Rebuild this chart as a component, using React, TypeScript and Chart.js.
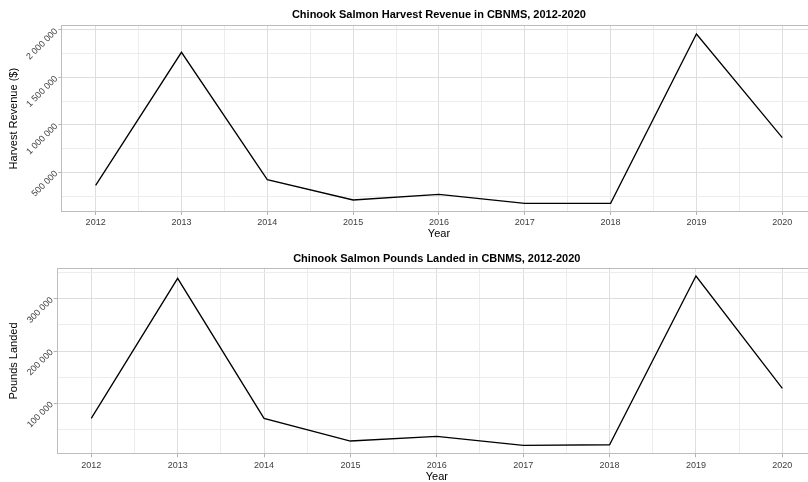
import React, { useEffect, useRef } from "react";
import { Chart, registerables } from "chart.js";

Chart.register(...registerables);

// ---- data ----
const years = [2012, 2013, 2014, 2015, 2016, 2017, 2018, 2019, 2020];
const revenue = [363000, 1765000, 422000, 208000, 268000, 172000, 172000, 1958000, 865000];
const pounds = [71300, 339000, 71300, 27900, 36900, 19700, 20800, 343400, 128700];
const revenueTicks = [500000, 1000000, 1500000, 2000000];
const poundsTicks = [100000, 200000, 300000];
const xTickLabels = years.map(String);

const FONT = '"Liberation Sans", Arial, Helvetica, sans-serif';

function fmt(v: number): string {
  return String(Math.round(v)).replace(/\B(?=(\d{3})+(?!\d))/g, " ");
}

type Spec = {
  title: string;
  yTitle: string;
  values: number[];
  majors: number[];
  yMin: number;
  yMax: number;
  width: number;
  height: number;
  pageTop: number;
  panelLeft: number;
  panelRight: number;
  panelTop: number;
  panelBottom: number;
  titleCenter: number;
  yearCenter: number;
};

const panelBorder = {
  id: "panelBorder",
  afterDatasetsDraw(chart: any) {
    const { ctx, chartArea: a } = chart;
    ctx.save();
    ctx.strokeStyle = "#bdbdbd";
    ctx.lineWidth = 1;
    const l = Math.round(a.left) + 0.5;
    const t = Math.round(a.top) + 0.5;
    const r = Math.round(a.right) - 0.5;
    const b = Math.round(a.bottom) - 0.5;
    ctx.strokeRect(l, t, r - l, b - t);
    ctx.restore();
  },
};

// Chart title centred over the plotting panel (like ggplot), drawn as canvas text
const panelTitle = {
  id: "panelTitle",
  afterDraw(chart: any, _args: any, opts: any) {
    const { ctx, chartArea: a } = chart;
    ctx.save();
    ctx.fillStyle = "#000000";
    ctx.font = `bold 11px ${FONT}`;
    ctx.textAlign = "center";
    ctx.textBaseline = "middle";
    ctx.fillText(opts.text, (a.left + a.right) / 2, opts.y);
    ctx.restore();
  },
};

function Panel({ spec }: { spec: Spec }) {
  const ref = useRef<HTMLCanvasElement | null>(null);
  useEffect(() => {
    if (!ref.current) return;
    const s = spec;
    const step = s.majors[1] - s.majors[0];
    const yGrid: number[] = [];
    for (let v = s.majors[0] - step / 2; v <= s.yMax; v += step / 2) {
      if (v >= s.yMin) yGrid.push(v);
    }
    const xGrid: number[] = [];
    for (let i = 0; i <= (years[years.length - 1] - years[0]) * 2; i++) {
      xGrid.push(years[0] + i * 0.5);
    }
    const titleLH = 11 * 1.2;
    const chart = new Chart(ref.current, {
      type: "line",
      data: {
        datasets: [
          {
            data: years.map((y, i) => ({ x: y, y: s.values[i] })),
            borderColor: "#000000",
            borderWidth: 1.3,
            pointRadius: 0,
            tension: 0,
            fill: false,
          },
        ],
      },
      options: {
        animation: false,
        responsive: false,
        devicePixelRatio: 1,
        layout: {
          padding: { left: 0, top: s.panelTop, bottom: 0, right: s.width - s.panelRight },
        },
        plugins: {
          legend: { display: false },
          tooltip: { enabled: false },
          title: { display: false },
          panelTitle: { text: s.title, y: s.titleCenter },
        },
        scales: {
          x: {
            type: "linear",
            min: years[0] - 0.4,
            max: years[years.length - 1] + 0.4,
            afterBuildTicks: (sc: any) => {
              sc.ticks = xGrid.map((v) => ({ value: v }));
            },
            afterFit: (sc: any) => {
              sc.height = s.height - s.panelBottom;
              sc.paddingLeft = 0;
              sc.paddingRight = 0;
            },
            ticks: {
              autoSkip: false,
              minRotation: 0,
              maxRotation: 0,
              padding: 2.6,
              color: "#3d3d3d",
              font: { family: FONT, size: 9, lineHeight: 1.2 },
              callback: (v: any) => {
                const idx = years.indexOf(Number(v));
                return idx >= 0 ? xTickLabels[idx] : "";
              },
            },
            grid: {
              drawTicks: true,
              tickLength: 3,
              lineWidth: 1,
              tickColor: (c: any) =>
                c.tick && Number.isInteger(c.tick.value) ? "#b3b3b3" : "rgba(0,0,0,0)",
              color: (c: any) =>
                c.tick && Number.isInteger(c.tick.value) ? "#dedede" : "#ececec",
            },
            border: { display: false },
            title: {
              display: true,
              text: "Year",
              color: "#000000",
              font: { family: FONT, size: 11, lineHeight: 1.2 },
              padding: { top: 0, bottom: Math.max(0, s.height - titleLH / 2 - s.yearCenter) },
            },
          },
          y: {
            type: "linear",
            min: s.yMin,
            max: s.yMax,
            afterBuildTicks: (sc: any) => {
              sc.ticks = yGrid.map((v) => ({ value: v }));
            },
            afterFit: (sc: any) => {
              sc.width = s.panelLeft;
              sc.paddingTop = 0;
              sc.paddingBottom = 0;
            },
            ticks: {
              autoSkip: false,
              minRotation: 45,
              maxRotation: 45,
              padding: 2,
              color: "#3d3d3d",
              font: { family: FONT, size: 9, lineHeight: 1.2 },
              callback: (v: any) => (s.majors.includes(Number(v)) ? fmt(Number(v)) : ""),
            },
            grid: {
              drawTicks: true,
              tickLength: 3,
              lineWidth: 1,
              tickColor: (c: any) =>
                c.tick && s.majors.includes(c.tick.value) ? "#b3b3b3" : "rgba(0,0,0,0)",
              color: (c: any) =>
                c.tick && s.majors.includes(c.tick.value) ? "#dedede" : "#ececec",
            },
            border: { display: false },
            title: {
              display: true,
              text: s.yTitle,
              color: "#000000",
              font: { family: FONT, size: 11, lineHeight: 1.2 },
              padding: { top: 6.9, bottom: 0 },
            },
          },
        },
      },
      plugins: [panelBorder, panelTitle],
    } as any);
    return () => chart.destroy();
  }, [spec]);

  return (
    <div
      style={{
        position: "absolute",
        left: 0,
        top: spec.pageTop,
        width: spec.width,
        height: spec.height,
      }}
    >
      <canvas
        ref={ref}
        width={spec.width}
        height={spec.height}
        style={{ display: "block", width: spec.width, height: spec.height }}
      />
    </div>
  );
}

const topSpec: Spec = {
  title: "Chinook Salmon Harvest Revenue in CBNMS, 2012-2020",
  yTitle: "Harvest Revenue ($)",
  values: revenue,
  majors: revenueTicks,
  yMin: 81500,
  yMax: 2049500,
  width: 840,
  height: 242,
  pageTop: 0,
  panelLeft: 61.3,
  panelRight: 816.6,
  panelTop: 25.3,
  panelBottom: 212,
  titleCenter: 15,
  yearCenter: 234,
};

const bottomSpec: Spec = {
  title: "Chinook Salmon Pounds Landed in CBNMS, 2012-2020",
  yTitle: "Pounds Landed",
  values: pounds,
  majors: poundsTicks,
  yMin: 2500,
  yMax: 359300,
  width: 840,
  height: 242,
  pageTop: 242,
  panelLeft: 56.7,
  panelRight: 816.9,
  panelTop: 25.7,
  panelBottom: 212.3,
  titleCenter: 17,
  yearCenter: 234.8,
};

export default function App() {
  return (
    <div
      style={{
        position: "absolute",
        left: 0,
        top: 0,
        width: 808,
        height: 482,
        overflow: "hidden",
        background: "#ffffff",
      }}
    >
      <Panel spec={topSpec} />
      <Panel spec={bottomSpec} />
    </div>
  );
}
